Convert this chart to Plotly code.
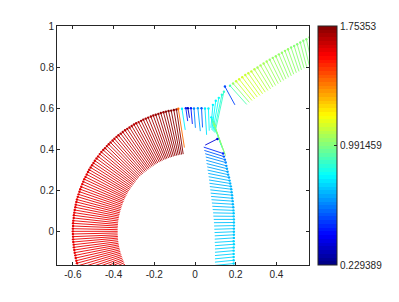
import plotly.graph_objects as go
from plotly.colors import sample_colorscale

# ---------------- data ----------------
CMIN, CMAX = 0.229389, 1.75353
cbar_ticks = [0.229389, 0.991459, 1.75353]
cbar_labels = ["0.229389", "0.991459", "1.75353"]
x_ticks = [-0.6, -0.4, -0.2, 0, 0.2, 0.4]
x_labels = ["-0.6", "-0.4", "-0.2", "0", "0.2", "0.4"]
y_ticks = [0, 0.2, 0.4, 0.6, 0.8, 1]
y_labels = ["0", "0.2", "0.4", "0.6", "0.8", "1"]

# red band: head (outer) and tail (inner) points, magnitude
red_hx = [-0.091, -0.104, -0.117, -0.130, -0.143, -0.155, -0.168, -0.180, -0.193, -0.205,
          -0.217, -0.230, -0.242, -0.254, -0.265, -0.277, -0.289, -0.300, -0.311, -0.322,
          -0.333, -0.344, -0.355, -0.365, -0.376, -0.386, -0.396, -0.405, -0.415, -0.424,
          -0.433, -0.442, -0.451, -0.460, -0.468, -0.476, -0.484, -0.492, -0.499, -0.506,
          -0.513, -0.520, -0.526, -0.532, -0.538, -0.544, -0.549, -0.554, -0.559, -0.564,
          -0.568, -0.572, -0.576, -0.580, -0.583, -0.586, -0.588, -0.591, -0.593, -0.595,
          -0.596, -0.598, -0.599, -0.599, -0.600, -0.600, -0.600, -0.599, -0.599, -0.598,
          -0.596, -0.595, -0.593, -0.591, -0.588, -0.586, -0.583, -0.580, -0.576, -0.572,
          -0.568, -0.564, -0.559, -0.554, -0.549, -0.544]
red_hy = [0.593, 0.591, 0.588, 0.586, 0.583, 0.580, 0.576, 0.572, 0.568, 0.564,
          0.559, 0.554, 0.549, 0.544, 0.538, 0.532, 0.526, 0.520, 0.513, 0.506,
          0.499, 0.492, 0.484, 0.476, 0.468, 0.460, 0.451, 0.442, 0.433, 0.424,
          0.415, 0.405, 0.396, 0.386, 0.376, 0.365, 0.355, 0.344, 0.333, 0.322,
          0.311, 0.300, 0.289, 0.277, 0.265, 0.254, 0.242, 0.230, 0.217, 0.205,
          0.193, 0.180, 0.168, 0.155, 0.143, 0.130, 0.117, 0.104, 0.091, 0.078,
          0.065, 0.052, 0.039, 0.026, 0.013, 0.000, -0.013, -0.026, -0.039, -0.052,
          -0.065, -0.078, -0.091, -0.104, -0.117, -0.130, -0.143, -0.155, -0.168, -0.180,
          -0.193, -0.205, -0.217, -0.230, -0.242, -0.254]
red_tx = [-0.058, -0.066, -0.074, -0.082, -0.090, -0.098, -0.106, -0.114, -0.122, -0.130,
          -0.138, -0.145, -0.153, -0.161, -0.168, -0.175, -0.183, -0.190, -0.197, -0.204,
          -0.211, -0.218, -0.225, -0.231, -0.238, -0.244, -0.251, -0.257, -0.263, -0.269,
          -0.275, -0.280, -0.286, -0.291, -0.296, -0.301, -0.306, -0.311, -0.316, -0.320,
          -0.325, -0.329, -0.333, -0.337, -0.341, -0.344, -0.348, -0.351, -0.354, -0.357,
          -0.360, -0.362, -0.365, -0.367, -0.369, -0.371, -0.373, -0.374, -0.376, -0.377,
          -0.378, -0.379, -0.379, -0.380, -0.380, -0.380, -0.380, -0.380, -0.379, -0.379,
          -0.378, -0.377, -0.376, -0.374, -0.373, -0.371, -0.369, -0.367, -0.365, -0.362,
          -0.360, -0.357, -0.354, -0.351, -0.348, -0.344]
red_ty = [0.376, 0.374, 0.373, 0.371, 0.369, 0.367, 0.365, 0.362, 0.360, 0.357,
          0.354, 0.351, 0.348, 0.344, 0.341, 0.337, 0.333, 0.329, 0.325, 0.320,
          0.316, 0.311, 0.306, 0.301, 0.296, 0.291, 0.286, 0.280, 0.275, 0.269,
          0.263, 0.257, 0.251, 0.244, 0.238, 0.231, 0.225, 0.218, 0.211, 0.204,
          0.197, 0.190, 0.183, 0.175, 0.168, 0.161, 0.153, 0.145, 0.138, 0.130,
          0.122, 0.114, 0.106, 0.098, 0.090, 0.082, 0.074, 0.066, 0.058, 0.050,
          0.041, 0.033, 0.025, 0.017, 0.008, 0.000, -0.008, -0.017, -0.025, -0.033,
          -0.041, -0.050, -0.058, -0.066, -0.074, -0.082, -0.090, -0.098, -0.106, -0.114,
          -0.122, -0.130, -0.138, -0.145, -0.153, -0.161]
red_val = [1.75, 1.74, 1.74, 1.73, 1.73, 1.72, 1.72, 1.71, 1.71, 1.70,
           1.70, 1.70, 1.69, 1.69, 1.69, 1.68, 1.68, 1.68, 1.67, 1.67,
           1.67, 1.66, 1.66, 1.66, 1.66, 1.65, 1.65, 1.65, 1.65, 1.64,
           1.64, 1.64, 1.64, 1.63, 1.63, 1.63, 1.63, 1.63, 1.62, 1.62,
           1.62, 1.62, 1.62, 1.61, 1.61, 1.61, 1.61, 1.61, 1.61, 1.60,
           1.60, 1.60, 1.61, 1.60, 1.60, 1.59, 1.60, 1.59, 1.60, 1.59,
           1.60, 1.59, 1.59, 1.60, 1.59, 1.59, 1.60, 1.59, 1.60, 1.59,
           1.59, 1.60, 1.59, 1.60, 1.59, 1.60, 1.59, 1.60, 1.60, 1.59,
           1.60, 1.60, 1.61, 1.60, 1.61, 1.61]

# blue band (right end is head)
blue_hx = [0.138, 0.142, 0.147, 0.151, 0.154, 0.157, 0.160, 0.163, 0.167, 0.170,
           0.173, 0.176, 0.178, 0.180, 0.182, 0.183, 0.185, 0.186, 0.188, 0.189,
           0.190, 0.190, 0.191, 0.191, 0.191, 0.191, 0.191, 0.191, 0.191, 0.190,
           0.191, 0.190, 0.190, 0.190, 0.190, 0.190, 0.190]
blue_hy = [0.379, 0.364, 0.349, 0.335, 0.319, 0.305, 0.290, 0.276, 0.262, 0.247,
           0.233, 0.219, 0.205, 0.190, 0.176, 0.161, 0.147, 0.132, 0.117, 0.102,
           0.088, 0.073, 0.058, 0.043, 0.028, 0.013, -0.002, -0.017, -0.032, -0.048,
           -0.063, -0.079, -0.094, -0.110, -0.125, -0.141, -0.157]
blue_tx = [0.043, 0.046, 0.050, 0.053, 0.055, 0.057, 0.060, 0.062, 0.065, 0.067,
           0.069, 0.071, 0.073, 0.075, 0.077, 0.079, 0.081, 0.083, 0.085, 0.087,
           0.089, 0.090, 0.092, 0.093, 0.094, 0.095, 0.096, 0.097, 0.097, 0.097,
           0.098, 0.098, 0.098, 0.098, 0.098, 0.098, 0.098]
blue_ty = [0.410, 0.394, 0.378, 0.362, 0.346, 0.330, 0.314, 0.298, 0.282, 0.266,
           0.250, 0.234, 0.218, 0.202, 0.186, 0.170, 0.154, 0.138, 0.122, 0.106,
           0.090, 0.074, 0.058, 0.042, 0.026, 0.010, -0.006, -0.022, -0.038, -0.054,
           -0.070, -0.086, -0.102, -0.118, -0.134, -0.150, -0.166]
blue_val = [0.48, 0.55, 0.60, 0.63, 0.65, 0.66, 0.67, 0.68, 0.68, 0.69,
            0.69, 0.69, 0.70, 0.70, 0.70, 0.70, 0.70, 0.70, 0.70, 0.71,
            0.71, 0.71, 0.71, 0.71, 0.72, 0.72, 0.72, 0.72, 0.72, 0.73,
            0.73, 0.73, 0.73, 0.73, 0.74, 0.74, 0.74]

# green band (upper end is head)
green_hx = [0.172, 0.187, 0.202, 0.217, 0.232, 0.247, 0.262, 0.277, 0.292, 0.307,
            0.322, 0.337, 0.352, 0.367, 0.382, 0.397, 0.412, 0.427, 0.442, 0.457,
            0.472, 0.487, 0.502, 0.517, 0.532, 0.547, 0.562]
green_hy = [0.709, 0.720, 0.731, 0.741, 0.751, 0.761, 0.770, 0.779, 0.789, 0.798,
            0.808, 0.817, 0.827, 0.836, 0.845, 0.853, 0.862, 0.870, 0.879, 0.887,
            0.895, 0.903, 0.911, 0.920, 0.928, 0.936, 0.945]
green_tx = [0.254, 0.267, 0.280, 0.293, 0.306, 0.319, 0.332, 0.345, 0.358, 0.371,
            0.383, 0.396, 0.409, 0.422, 0.435, 0.447, 0.460, 0.473, 0.485, 0.498,
            0.511, 0.523, 0.536, 0.548, 0.561, 0.574, 0.586]
green_ty = [0.618, 0.628, 0.637, 0.645, 0.654, 0.662, 0.670, 0.678, 0.686, 0.694,
            0.703, 0.710, 0.719, 0.727, 0.735, 0.742, 0.750, 0.757, 0.765, 0.772,
            0.779, 0.786, 0.794, 0.802, 0.809, 0.817, 0.825]
green_val = [0.92, 1.02, 1.10, 1.12, 1.12, 1.11, 1.11, 1.10, 1.08, 1.06,
             1.05, 1.04, 1.04, 1.03, 1.03, 1.03, 1.02, 1.02, 1.02, 1.02,
             1.01, 1.01, 1.01, 1.01, 1.00, 1.00, 1.00]

# junction vectors (top end is head)
junc_hx = [-0.082, -0.064, -0.045, -0.035, -0.020, -0.005, 0.014, 0.032, 0.049, 0.066,
           0.088, 0.102, 0.117, 0.132, 0.142,
           0.080, 0.084, 0.088, 0.092, 0.096,
           0.147, 0.110]
junc_hy = [0.597, 0.597, 0.600, 0.600, 0.600, 0.598, 0.600, 0.600, 0.598, 0.598,
           0.616, 0.636, 0.650, 0.665, 0.680,
           0.555, 0.545, 0.535, 0.525, 0.515,
           0.705, 0.450]
junc_tx = [-0.052, -0.048, -0.036, -0.027, -0.013, 0.002, 0.026, 0.037, 0.057, 0.070,
           0.078, 0.083, 0.088, 0.093, 0.098,
           0.128, 0.134, 0.140, 0.146, 0.150,
           0.196, 0.050]
junc_ty = [0.408, 0.494, 0.537, 0.553, 0.523, 0.504, 0.488, 0.506, 0.470, 0.490,
           0.504, 0.494, 0.489, 0.484, 0.480,
           0.420, 0.405, 0.392, 0.378, 0.368,
           0.616, 0.420]
junc_val = [1.40, 0.78, 0.46, 0.32, 0.45, 0.62, 0.68, 0.55, 0.76, 0.80,
            0.78, 0.80, 0.82, 0.86, 0.88,
            0.80, 0.86, 0.92, 0.98, 1.02,
            0.52, 0.36]

# ---------------- styling ----------------
jet = [[0.0, "rgb(0,0,128)"], [0.125, "rgb(0,0,255)"], [0.375, "rgb(0,255,255)"],
       [0.625, "rgb(255,255,0)"], [0.875, "rgb(255,0,0)"], [1.0, "rgb(128,0,0)"]]
N = 64
band_cols = sample_colorscale(jet, [(i + 0.5) / N for i in range(N)])
jet64 = []
for i, c in enumerate(band_cols):
    jet64.append([i / N, c])
    jet64.append([(i + 1) / N, c])

def color_of(v):
    t = (v - CMIN) / (CMAX - CMIN)
    t = min(1.0, max(0.0, t))
    return sample_colorscale(jet, [t])[0]

fig = go.Figure()
groups = [
    (red_hx, red_hy, red_tx, red_ty, red_val),
    (blue_hx, blue_hy, blue_tx, blue_ty, blue_val),
    (green_hx, green_hy, green_tx, green_ty, green_val),
    (junc_hx, junc_hy, junc_tx, junc_ty, junc_val),
]
for hx, hy, tx, ty, vals in groups:
    for a, b, c, d, v in zip(hx, hy, tx, ty, vals):
        fig.add_trace(go.Scatter(x=[a, c], y=[b, d], mode="lines",
                                 line=dict(color=color_of(v), width=0.9),
                                 hoverinfo="skip", showlegend=False))
for gi, (hx, hy, tx, ty, vals) in enumerate(groups):
    fig.add_trace(go.Scatter(
        x=hx, y=hy, mode="markers", showlegend=False, hoverinfo="skip",
        marker=dict(size=2.4, color=vals, colorscale=jet64, cmin=CMIN, cmax=CMAX,
                    showscale=(gi == 0),
                    colorbar=dict(x=1.037, xanchor="left", xref="paper",
                                  y=0.5, yanchor="middle", len=1, lenmode="fraction",
                                  thickness=19, xpad=0, ypad=0,
                                  outlinecolor="#262626", outlinewidth=1,
                                  tickvals=cbar_ticks, ticktext=cbar_labels,
                                  ticks="inside", ticklen=3, tickcolor="#262626",
                                  tickfont=dict(size=10, color="#262626",
                                                family="Liberation Sans")))))

axis_common = dict(showgrid=False, zeroline=False, showline=True, linecolor="#262626",
                   linewidth=1, mirror="ticks", ticks="inside", ticklen=3,
                   tickcolor="#262626",
                   tickfont=dict(size=10, color="#262626", family="Liberation Sans"))
fig.update_layout(
    width=391, height=294,
    margin=dict(l=49, r=90, t=18, b=37, autoexpand=False),
    paper_bgcolor="white", plot_bgcolor="white",
    xaxis=dict(range=[-0.678, 0.560], tickvals=x_ticks, ticktext=x_labels, **axis_common),
    yaxis=dict(range=[-0.164, 1.0], tickvals=y_ticks, ticktext=y_labels, **axis_common),
    font=dict(family="Liberation Sans"),
)
fig.write_html("out.html")
